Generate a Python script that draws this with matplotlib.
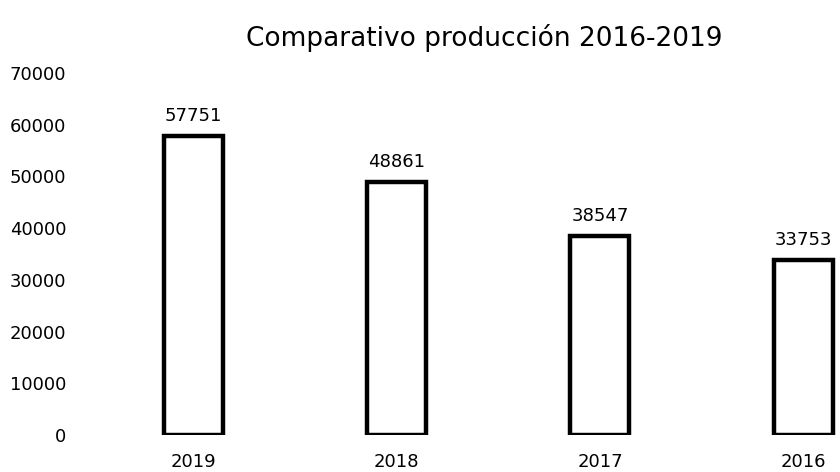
import matplotlib.pyplot as plt

# production per year
years = ['2019', '2018', '2017', '2016']
produccion = [57751, 48861, 38547, 33753]
yticks = [0, 10000, 20000, 30000, 40000, 50000, 60000, 70000]

fig = plt.figure(figsize=(8.4, 4.72), dpi=100)
ax = fig.add_axes([80/840, 37/472, 760/840, 362/472])

x = range(len(years))
bars = ax.bar(x, produccion, width=0.29, color='white', edgecolor='black', linewidth=3.2)

for xi, v in zip(x, produccion):
    ax.annotate(str(v), (xi, v), xytext=(0, 8), textcoords='offset points',
                ha='center', va='bottom', fontsize=13)

ax.set_xlim(-0.556, 3.18)
ax.set_ylim(0, 70000)
ax.set_xticks(list(x))
ax.set_xticklabels(years, fontsize=13)
ax.set_yticks(yticks)
ax.set_yticklabels([str(t) for t in yticks], fontsize=13)
ax.tick_params(axis='both', length=0)
ax.tick_params(axis='x', pad=13)
ax.tick_params(axis='y', pad=10)
for s in ax.spines.values():
    s.set_visible(False)

fig.text(0.576, 0.92, 'Comparativo producción 2016-2019', ha='center', va='center', fontsize=19)

fig.savefig('out.png', dpi=100)
